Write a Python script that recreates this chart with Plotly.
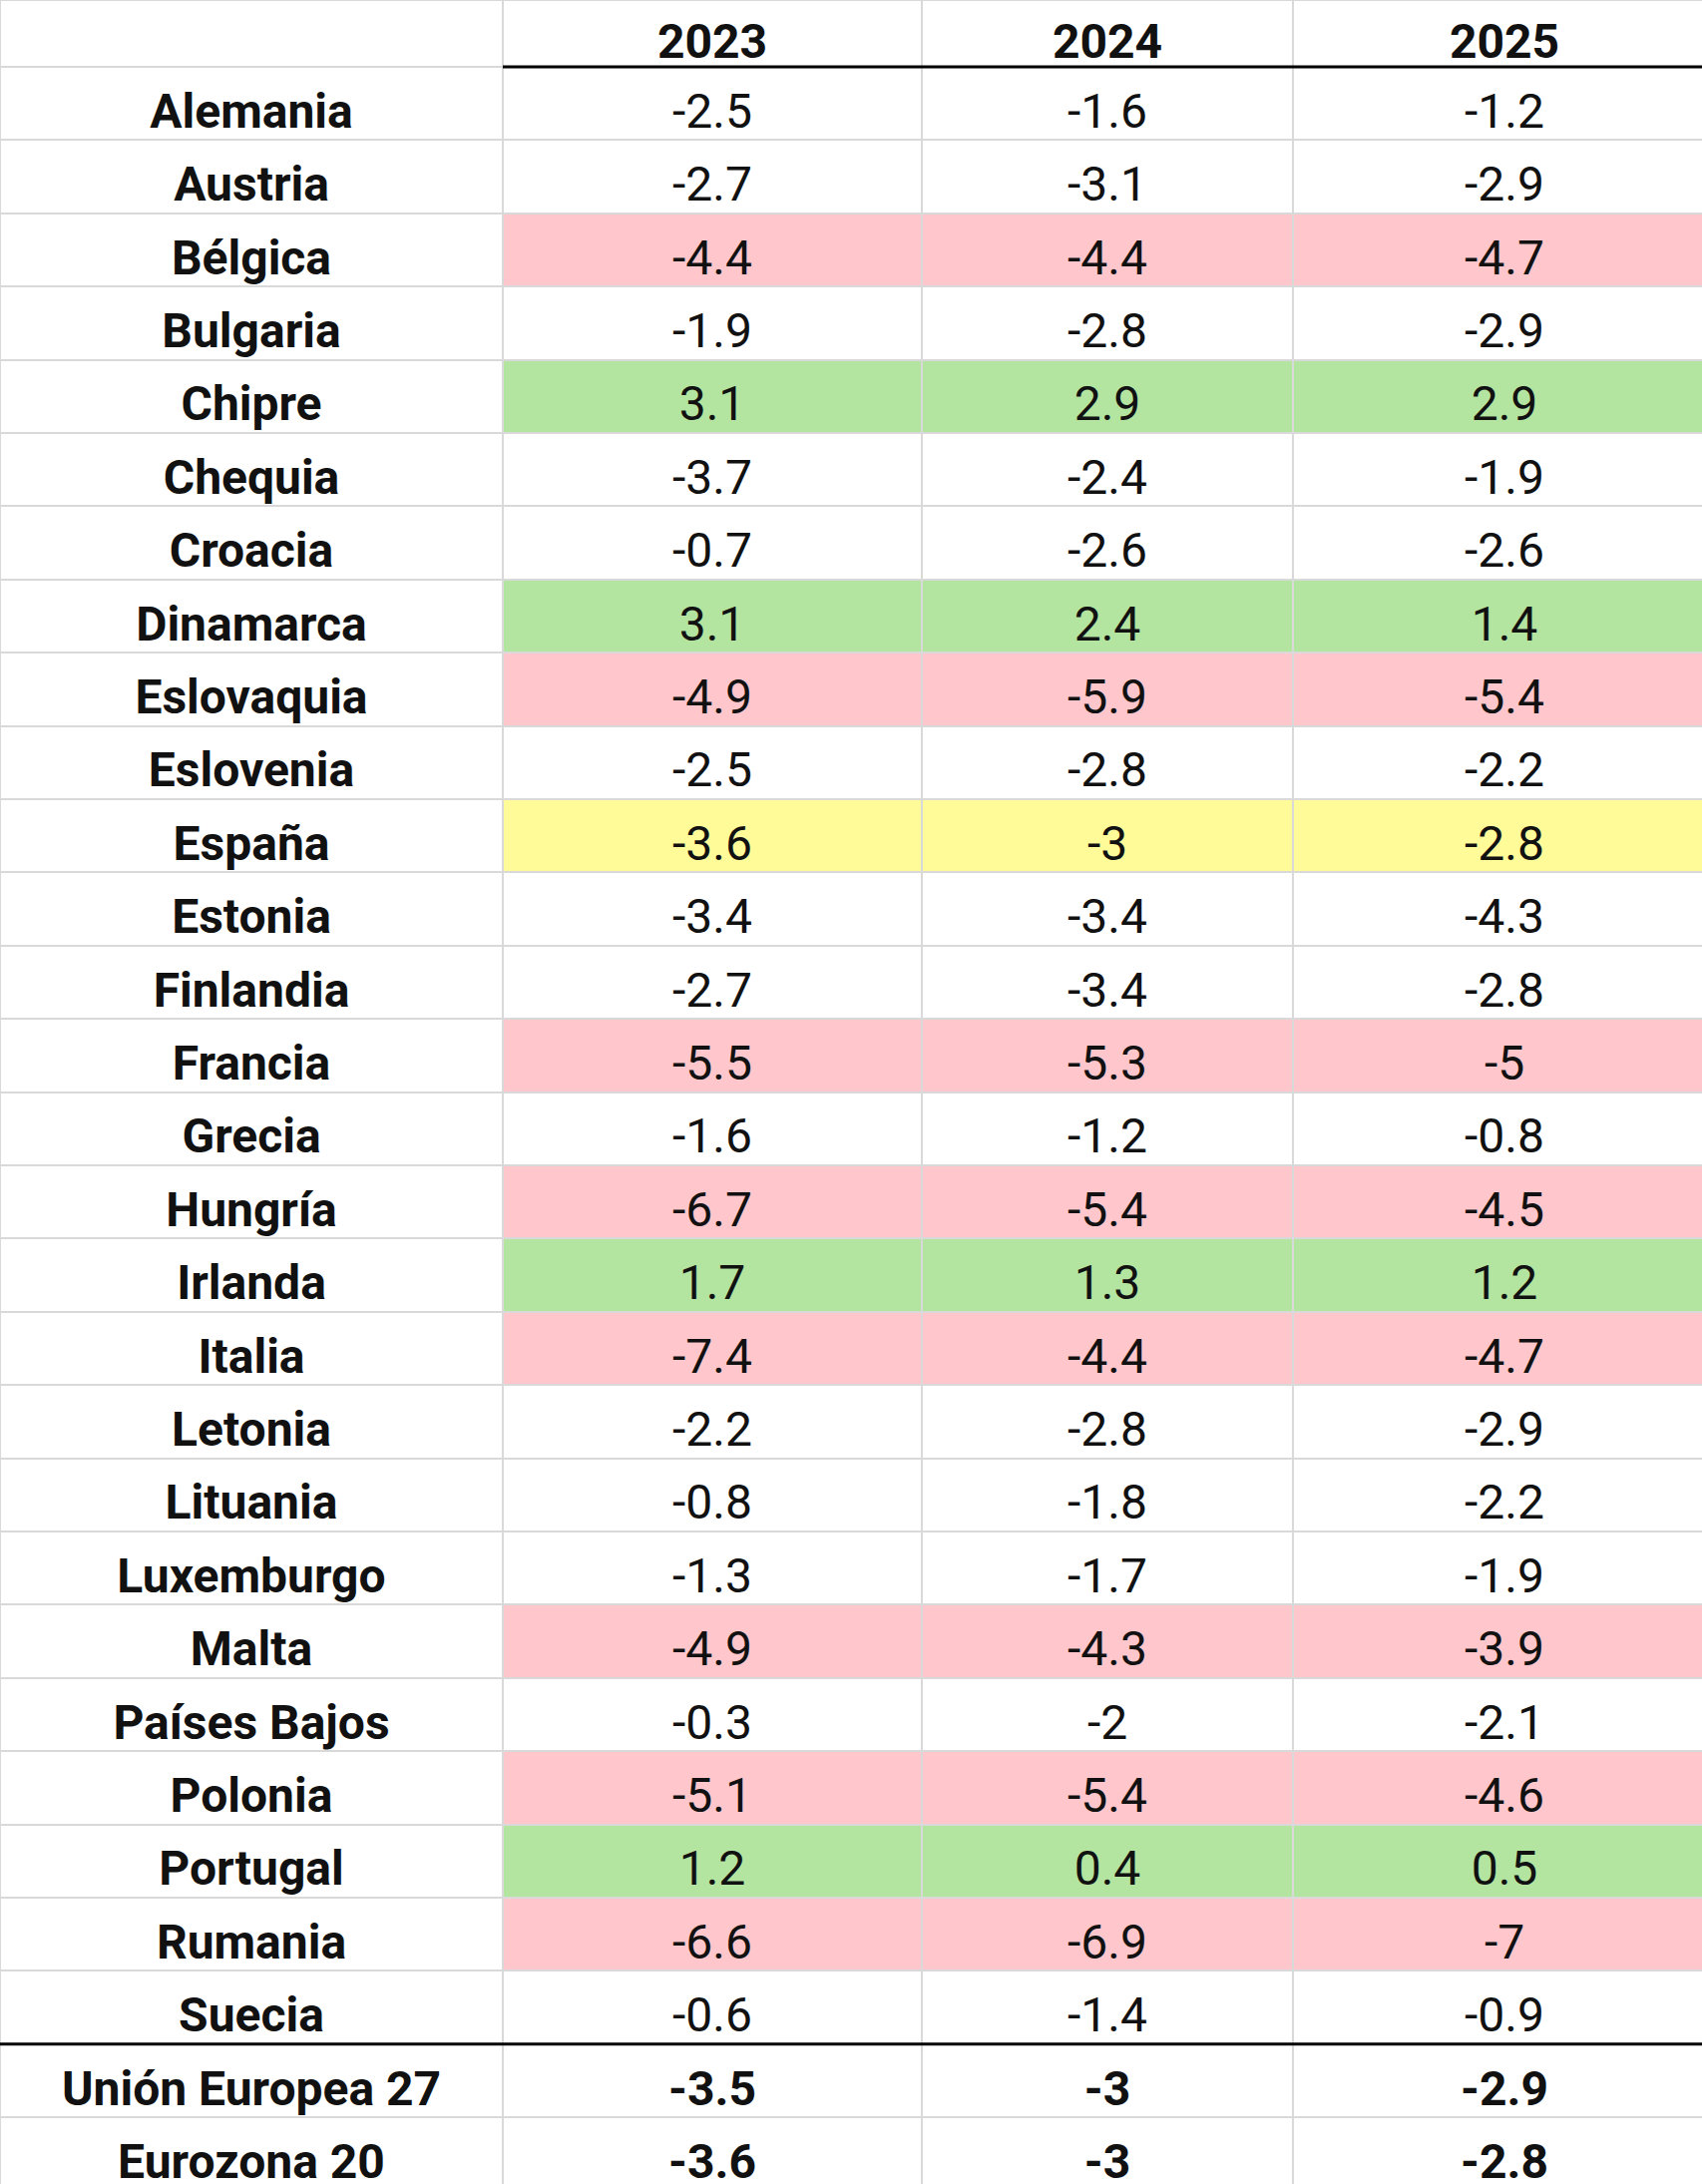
import plotly.graph_objects as go

years = ["2023", "2024", "2025"]
countries = ["Alemania", "Austria", "Bélgica", "Bulgaria", "Chipre", "Chequia", "Croacia",
             "Dinamarca", "Eslovaquia", "Eslovenia", "España", "Estonia", "Finlandia",
             "Francia", "Grecia", "Hungría", "Irlanda", "Italia", "Letonia", "Lituania",
             "Luxemburgo", "Malta", "Países Bajos", "Polonia", "Portugal", "Rumania", "Suecia",
             "Unión Europea 27", "Eurozona 20"]
v2023 = [-2.5, -2.7, -4.4, -1.9, 3.1, -3.7, -0.7, 3.1, -4.9, -2.5, -3.6, -3.4, -2.7,
         -5.5, -1.6, -6.7, 1.7, -7.4, -2.2, -0.8, -1.3, -4.9, -0.3, -5.1, 1.2, -6.6, -0.6,
         -3.5, -3.6]
v2024 = [-1.6, -3.1, -4.4, -2.8, 2.9, -2.4, -2.6, 2.4, -5.9, -2.8, -3, -3.4, -3.4,
         -5.3, -1.2, -5.4, 1.3, -4.4, -2.8, -1.8, -1.7, -4.3, -2, -5.4, 0.4, -6.9, -1.4,
         -3, -3]
v2025 = [-1.2, -2.9, -4.7, -2.9, 2.9, -1.9, -2.6, 1.4, -5.4, -2.2, -2.8, -4.3, -2.8,
         -5, -0.8, -4.5, 1.2, -4.7, -2.9, -2.2, -1.9, -3.9, -2.1, -4.6, 0.5, -7, -0.9,
         -2.9, -2.8]
# estado de cada fila: n normal, d déficit alto (rojo), s superávit (verde), e España, t total
status = ["n", "n", "d", "n", "s", "n", "n", "s", "d", "n", "e", "n", "n",
          "d", "n", "d", "s", "d", "n", "n", "n", "d", "n", "d", "s", "d", "n",
          "t", "t"]

code = {"n": 0, "t": 0, "d": 1, "s": 2, "e": 3}
W, H = 1706, 2189
col_w = [504, 420, 372, 424]   # la última columna queda recortada
header_h = 67
row_h = 73.4
text_dy = 12

x_edges = [0]
for w in col_w:
    x_edges.append(x_edges[-1] + w)
y_edges = [0, header_h]
for _ in countries:
    y_edges.append(y_edges[-1] + row_h)
x_mid = [(a + b) / 2 for a, b in zip(x_edges[:-1], x_edges[1:])]
y_mid = [(a + b) / 2 for a, b in zip(y_edges[:-1], y_edges[1:])]

z = [[0, 0, 0, 0]]
text = [[""] + [f"<b>{y}</b>" for y in years]]
for c, s, a, b, d in zip(countries, status, v2023, v2024, v2025):
    z.append([0] + [code[s]] * 3)
    nums = [f"{v:g}" for v in (a, b, d)]
    if s == "t":
        nums = [f"<b>{t}</b>" for t in nums]
    text.append([f"<b>{c}</b>"] + nums)

fig = go.Figure(go.Heatmap(
    x=x_edges, y=y_edges, z=z,
    colorscale=[[0, "white"], [1 / 3, "#ffc7cc"], [2 / 3, "#b3e4a0"], [1, "#fffb99"]],
    zmin=0, zmax=3, showscale=False, xgap=2, ygap=2, hoverinfo="skip",
))

tx, ty, tt = [], [], []
for i, row in enumerate(text):
    for j, t in enumerate(row):
        tx.append(x_mid[j])
        ty.append(y_mid[i] + text_dy)
        tt.append(t)
fig.add_trace(go.Scatter(
    x=tx, y=ty, text=tt, mode="text", textposition="middle center",
    textfont=dict(family="Roboto", size=48, color="#111111"),
    hoverinfo="skip", showlegend=False,
))

# líneas gruesas bajo la cabecera y sobre los totales
fig.add_shape(type="line", x0=col_w[0], x1=W, y0=header_h, y1=header_h,
              line=dict(color="black", width=3))
y_tot = header_h + 27 * row_h
fig.add_shape(type="line", x0=0, x1=W, y0=y_tot, y1=y_tot,
              line=dict(color="black", width=3))

fig.update_xaxes(range=[0, W], visible=False)
fig.update_yaxes(range=[H, 0], visible=False)
fig.update_layout(width=W, height=H, margin=dict(l=0, r=0, t=0, b=0),
                  paper_bgcolor="white", plot_bgcolor="#d9d9d9", showlegend=False)
fig.write_html("out.html", config={"displayModeBar": False},
               post_script="document.body.style.margin='0';")
